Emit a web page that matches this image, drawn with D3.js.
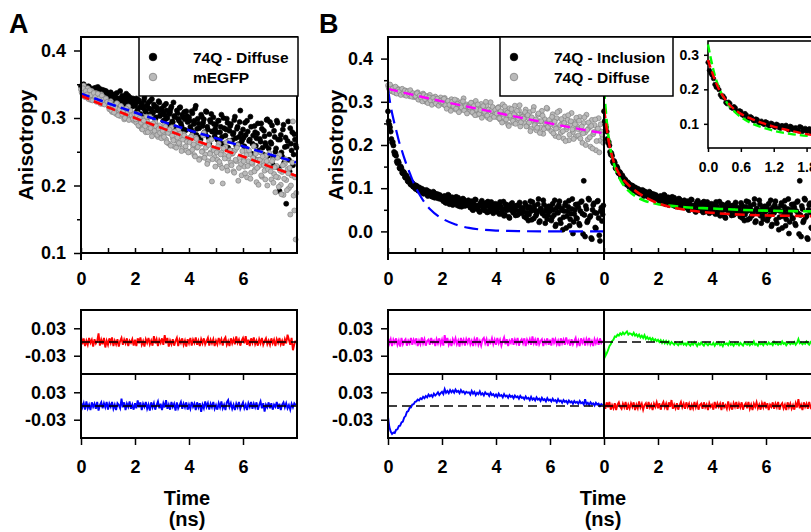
<!DOCTYPE html>
<html>
<head>
<meta charset="utf-8">
<script src="https://cdn.jsdelivr.net/npm/d3@7"></script>
<style>
body { margin: 0; background: #fff; }
</style>
</head>
<body>
<svg id="chart" width="811" height="532"></svg>
<script>
// traces are sampled every 0.05 ns from 0 to 7.95 ns; scatter sets have a second sweep 0.025 ns later
var timeNs = d3.range(160).map(i => +(i * 0.05).toFixed(3));
var timeNsOdd = d3.range(160).map(i => +(i * 0.05 + 0.025).toFixed(3));

// panel A scatter: 74Q - Diffuse (black) and mEGFP (gray)
var diffuseA = [
  0.347, 0.341, 0.350, 0.338, 0.344, 0.336, 0.346, 0.340, 0.333, 0.342, 0.337, 0.345, 0.331, 0.339, 0.343, 0.334, 0.329, 0.341, 0.336, 0.338,
  0.332, 0.327, 0.338, 0.321, 0.330, 0.335, 0.324, 0.318, 0.329, 0.340, 0.326, 0.320, 0.331, 0.315, 0.327, 0.333, 0.322, 0.328, 0.317, 0.325,
  0.318, 0.329, 0.312, 0.324, 0.306, 0.321, 0.315, 0.330, 0.309, 0.318, 0.302, 0.325, 0.313, 0.307, 0.320, 0.298, 0.316, 0.311, 0.323, 0.305,
  0.312, 0.296, 0.305, 0.321, 0.300, 0.290, 0.309, 0.317, 0.294, 0.303, 0.286, 0.311, 0.299, 0.315, 0.292, 0.305, 0.283, 0.298, 0.310, 0.294,
  0.301, 0.287, 0.310, 0.279, 0.296, 0.318, 0.284, 0.292, 0.271, 0.305, 0.288, 0.298, 0.276, 0.309, 0.283, 0.262, 0.294, 0.280, 0.301, 0.273,
  0.290, 0.268, 0.296, 0.279, 0.305, 0.262, 0.285, 0.274, 0.299, 0.256, 0.281, 0.291, 0.267, 0.278, 0.302, 0.259, 0.287, 0.272, 0.311, 0.265,
  0.283, 0.258, 0.275, 0.296, 0.249, 0.268, 0.287, 0.262, 0.241, 0.279, 0.270, 0.292, 0.252, 0.265, 0.284, 0.246, 0.273, 0.259, 0.298, 0.255,
  0.294, 0.262, 0.231, 0.281, 0.250, 0.296, 0.268, 0.192, 0.275, 0.243, 0.290, 0.257, 0.173, 0.266, 0.238, 0.285, 0.252, 0.230, 0.276, 0.260
];
var diffuseAOdd = [
  0.343, 0.349, 0.335, 0.345, 0.339, 0.347, 0.332, 0.341, 0.337, 0.344, 0.330, 0.340, 0.346, 0.333, 0.338, 0.342, 0.327, 0.336, 0.340, 0.331,
  0.336, 0.329, 0.323, 0.334, 0.319, 0.331, 0.337, 0.322, 0.328, 0.316, 0.333, 0.325, 0.319, 0.336, 0.323, 0.314, 0.330, 0.324, 0.329, 0.319,
  0.322, 0.310, 0.327, 0.316, 0.303, 0.319, 0.326, 0.311, 0.300, 0.322, 0.314, 0.306, 0.328, 0.309, 0.317, 0.301, 0.312, 0.325, 0.303, 0.314,
  0.308, 0.318, 0.298, 0.311, 0.289, 0.306, 0.314, 0.295, 0.323, 0.301, 0.284, 0.307, 0.296, 0.316, 0.288, 0.301, 0.309, 0.282, 0.303, 0.298,
  0.296, 0.283, 0.307, 0.291, 0.314, 0.275, 0.299, 0.285, 0.268, 0.302, 0.293, 0.279, 0.310, 0.287, 0.271, 0.297, 0.306, 0.280, 0.291, 0.284,
  0.279, 0.296, 0.264, 0.287, 0.272, 0.300, 0.258, 0.283, 0.293, 0.266, 0.288, 0.251, 0.276, 0.297, 0.270, 0.284, 0.261, 0.294, 0.277, 0.268,
  0.271, 0.293, 0.254, 0.280, 0.266, 0.302, 0.247, 0.274, 0.288, 0.259, 0.277, 0.238, 0.269, 0.292, 0.256, 0.281, 0.263, 0.297, 0.244, 0.276,
  0.264, 0.289, 0.241, 0.272, 0.255, 0.293, 0.226, 0.268, 0.249, 0.283, 0.234, 0.271, 0.258, 0.295, 0.221, 0.262, 0.279, 0.246, 0.268, 0.256
];
var egfpA = [
  0.342, 0.336, 0.348, 0.331, 0.339, 0.344, 0.333, 0.327, 0.340, 0.335, 0.329, 0.337, 0.325, 0.332, 0.328, 0.335, 0.321, 0.330, 0.326, 0.322,
  0.320, 0.313, 0.325, 0.309, 0.318, 0.314, 0.306, 0.321, 0.311, 0.303, 0.316, 0.308, 0.298, 0.312, 0.305, 0.317, 0.300, 0.309, 0.302, 0.296,
  0.301, 0.293, 0.306, 0.288, 0.297, 0.284, 0.299, 0.291, 0.279, 0.295, 0.286, 0.302, 0.281, 0.290, 0.276, 0.294, 0.285, 0.272, 0.289, 0.280,
  0.284, 0.275, 0.290, 0.268, 0.281, 0.262, 0.277, 0.286, 0.270, 0.258, 0.279, 0.266, 0.283, 0.261, 0.273, 0.255, 0.276, 0.268, 0.252, 0.270,
  0.268, 0.250, 0.274, 0.259, 0.245, 0.271, 0.256, 0.264, 0.240, 0.262, 0.251, 0.278, 0.246, 0.258, 0.236, 0.266, 0.249, 0.206, 0.255, 0.242,
  0.254, 0.238, 0.262, 0.231, 0.249, 0.203, 0.245, 0.257, 0.228, 0.240, 0.266, 0.234, 0.247, 0.221, 0.252, 0.236, 0.260, 0.226, 0.243, 0.215,
  0.240, 0.228, 0.251, 0.212, 0.236, 0.246, 0.219, 0.232, 0.258, 0.224, 0.205, 0.238, 0.229, 0.249, 0.213, 0.235, 0.222, 0.244, 0.200, 0.231,
  0.226, 0.209, 0.238, 0.217, 0.190, 0.229, 0.212, 0.245, 0.201, 0.220, 0.186, 0.232, 0.208, 0.224, 0.196, 0.157, 0.215, 0.295, 0.163, 0.120
];
var egfpAOdd = [
  0.338, 0.344, 0.332, 0.340, 0.335, 0.328, 0.341, 0.334, 0.326, 0.337, 0.331, 0.324, 0.336, 0.329, 0.321, 0.333, 0.327, 0.320, 0.329, 0.324,
  0.317, 0.323, 0.311, 0.319, 0.308, 0.315, 0.322, 0.304, 0.313, 0.318, 0.306, 0.311, 0.300, 0.314, 0.307, 0.297, 0.311, 0.304, 0.299, 0.306,
  0.298, 0.304, 0.289, 0.300, 0.293, 0.283, 0.296, 0.288, 0.302, 0.279, 0.291, 0.285, 0.273, 0.292, 0.281, 0.288, 0.275, 0.284, 0.278, 0.270,
  0.281, 0.272, 0.287, 0.264, 0.278, 0.283, 0.259, 0.274, 0.267, 0.280, 0.256, 0.271, 0.263, 0.277, 0.251, 0.268, 0.274, 0.258, 0.265, 0.249,
  0.264, 0.272, 0.253, 0.261, 0.243, 0.269, 0.257, 0.238, 0.263, 0.250, 0.274, 0.241, 0.256, 0.232, 0.260, 0.247, 0.268, 0.239, 0.252, 0.228,
  0.249, 0.258, 0.235, 0.246, 0.226, 0.255, 0.240, 0.264, 0.222, 0.244, 0.252, 0.230, 0.248, 0.219, 0.238, 0.256, 0.207, 0.241, 0.232, 0.251,
  0.236, 0.218, 0.245, 0.229, 0.252, 0.210, 0.234, 0.241, 0.221, 0.247, 0.226, 0.201, 0.238, 0.215, 0.243, 0.230, 0.209, 0.236, 0.224, 0.248,
  0.221, 0.236, 0.204, 0.227, 0.213, 0.241, 0.198, 0.222, 0.187, 0.230, 0.210, 0.239, 0.193, 0.218, 0.226, 0.200, 0.234, 0.185, 0.212, 0.189
];

// panel B scatter: 74Q - Inclusion (black) and 74Q - Diffuse (gray)
var inclusionB = [
  0.278, 0.247, 0.231, 0.206, 0.199, 0.178, 0.175, 0.158, 0.159, 0.145, 0.146, 0.134, 0.136, 0.124, 0.126, 0.115, 0.118, 0.108, 0.112, 0.103,
  0.101, 0.106, 0.096, 0.102, 0.093, 0.099, 0.089, 0.095, 0.091, 0.085, 0.093, 0.083, 0.089, 0.080, 0.090, 0.084, 0.078, 0.086, 0.080, 0.075,
  0.079, 0.070, 0.082, 0.066, 0.075, 0.083, 0.068, 0.073, 0.061, 0.077, 0.069, 0.064, 0.078, 0.058, 0.071, 0.066, 0.074, 0.059, 0.068, 0.063,
  0.066, 0.055, 0.070, 0.049, 0.061, 0.073, 0.052, 0.058, 0.045, 0.067, 0.057, 0.063, 0.048, 0.059, 0.069, 0.046, 0.056, 0.062, 0.042, 0.058,
  0.060, 0.045, 0.055, 0.068, 0.041, 0.052, 0.036, 0.063, 0.049, 0.057, 0.031, 0.054, 0.066, 0.043, 0.050, 0.059, 0.038, 0.061, 0.046, 0.055,
  0.052, 0.034, 0.061, 0.043, 0.025, 0.057, 0.047, 0.068, 0.030, 0.049, 0.040, 0.063, 0.021, 0.053, 0.044, 0.072, 0.036, 0.048, 0.028, 0.058,
  0.047, 0.025, 0.064, 0.038, 0.012, 0.055, 0.043, 0.070, 0.019, 0.049, 0.033, 0.060, 0.008, 0.046, 0.071, 0.028, 0.052, -0.005, 0.040, 0.062,
  0.030, 0.056, 0.014, 0.068, 0.041, 0.117, -0.012, 0.052, 0.025, 0.073, 0.036, -0.018, 0.061, 0.044, 0.007, 0.069, 0.031, -0.022, 0.055, 0.039
];
var inclusionBOdd = [
  0.255, 0.241, 0.214, 0.207, 0.184, 0.181, 0.162, 0.163, 0.147, 0.150, 0.136, 0.138, 0.126, 0.130, 0.117, 0.121, 0.110, 0.114, 0.104, 0.108,
  0.098, 0.104, 0.094, 0.100, 0.090, 0.097, 0.087, 0.093, 0.096, 0.082, 0.091, 0.086, 0.081, 0.092, 0.078, 0.087, 0.083, 0.076, 0.084, 0.079,
  0.074, 0.081, 0.067, 0.076, 0.085, 0.063, 0.072, 0.079, 0.065, 0.070, 0.080, 0.060, 0.073, 0.068, 0.057, 0.076, 0.064, 0.070, 0.061, 0.072,
  0.059, 0.068, 0.051, 0.063, 0.074, 0.054, 0.060, 0.047, 0.065, 0.071, 0.050, 0.058, 0.066, 0.044, 0.061, 0.053, 0.068, 0.049, 0.057, 0.064,
  0.051, 0.062, 0.040, 0.058, 0.047, 0.069, 0.039, 0.054, 0.061, 0.034, 0.050, 0.064, 0.045, 0.056, 0.037, 0.060, 0.048, 0.067, 0.042, 0.053,
  0.045, 0.066, 0.031, 0.054, 0.039, 0.070, 0.027, 0.050, 0.059, 0.036, 0.046, 0.075, 0.024, 0.051, 0.041, 0.062, 0.019, 0.056, 0.038, 0.047,
  0.058, 0.032, 0.050, 0.072, 0.016, 0.044, 0.061, 0.027, 0.053, 0.004, 0.047, 0.066, 0.035, 0.057, 0.013, 0.041, 0.075, 0.022, 0.050, 0.031,
  0.063, 0.018, 0.047, 0.070, -0.006, 0.038, 0.059, 0.021, 0.076, 0.033, -0.015, 0.050, 0.065, 0.009, 0.042, 0.071, -0.009, 0.047, 0.024, 0.060
];
var diffuseB = [
  0.338, 0.329, 0.335, 0.324, 0.333, 0.327, 0.320, 0.331, 0.325, 0.318, 0.328, 0.322, 0.316, 0.326, 0.319, 0.323, 0.313, 0.321, 0.317, 0.311,
  0.318, 0.310, 0.322, 0.307, 0.315, 0.303, 0.319, 0.309, 0.300, 0.313, 0.305, 0.316, 0.298, 0.308, 0.302, 0.312, 0.295, 0.306, 0.299, 0.310,
  0.304, 0.294, 0.309, 0.290, 0.301, 0.285, 0.298, 0.306, 0.288, 0.296, 0.282, 0.303, 0.291, 0.279, 0.299, 0.287, 0.308, 0.283, 0.294, 0.277,
  0.292, 0.280, 0.297, 0.274, 0.286, 0.302, 0.270, 0.289, 0.278, 0.295, 0.267, 0.284, 0.273, 0.291, 0.263, 0.281, 0.299, 0.268, 0.286, 0.276,
  0.279, 0.264, 0.288, 0.259, 0.273, 0.294, 0.255, 0.281, 0.268, 0.247, 0.285, 0.262, 0.276, 0.251, 0.291, 0.266, 0.258, 0.280, 0.243, 0.270,
  0.267, 0.251, 0.282, 0.244, 0.262, 0.276, 0.237, 0.258, 0.288, 0.249, 0.234, 0.270, 0.255, 0.241, 0.279, 0.226, 0.260, 0.247, 0.284, 0.238,
  0.256, 0.232, 0.271, 0.245, 0.221, 0.262, 0.240, 0.279, 0.228, 0.251, 0.215, 0.266, 0.236, 0.258, 0.211, 0.247, 0.274, 0.230, 0.253, 0.219,
  0.243, 0.222, 0.265, 0.234, 0.205, 0.251, 0.229, 0.270, 0.213, 0.240, 0.196, 0.258, 0.225, 0.246, 0.188, 0.236, 0.262, 0.210, 0.231, 0.218
];
var diffuseBOdd = [
  0.333, 0.340, 0.326, 0.331, 0.322, 0.335, 0.319, 0.328, 0.324, 0.316, 0.330, 0.321, 0.326, 0.314, 0.324, 0.318, 0.327, 0.312, 0.320, 0.315,
  0.313, 0.320, 0.305, 0.314, 0.309, 0.301, 0.316, 0.306, 0.312, 0.297, 0.310, 0.303, 0.293, 0.309, 0.301, 0.296, 0.307, 0.291, 0.302, 0.298,
  0.299, 0.307, 0.292, 0.284, 0.302, 0.293, 0.279, 0.300, 0.290, 0.305, 0.284, 0.295, 0.276, 0.292, 0.287, 0.301, 0.280, 0.290, 0.273, 0.288,
  0.287, 0.298, 0.276, 0.290, 0.269, 0.283, 0.294, 0.272, 0.281, 0.263, 0.290, 0.277, 0.300, 0.268, 0.282, 0.260, 0.279, 0.288, 0.265, 0.281,
  0.273, 0.286, 0.262, 0.278, 0.252, 0.270, 0.289, 0.259, 0.275, 0.244, 0.268, 0.283, 0.256, 0.271, 0.249, 0.279, 0.262, 0.292, 0.253, 0.265,
  0.261, 0.276, 0.243, 0.269, 0.252, 0.232, 0.264, 0.280, 0.246, 0.259, 0.240, 0.273, 0.228, 0.255, 0.268, 0.237, 0.250, 0.286, 0.242, 0.258,
  0.249, 0.265, 0.227, 0.254, 0.238, 0.276, 0.218, 0.246, 0.260, 0.232, 0.251, 0.209, 0.242, 0.269, 0.224, 0.255, 0.236, 0.214, 0.248, 0.263,
  0.237, 0.256, 0.215, 0.243, 0.227, 0.264, 0.200, 0.235, 0.252, 0.218, 0.244, 0.192, 0.230, 0.259, 0.209, 0.238, 0.183, 0.248, 0.224, 0.205
];

// fitted curves
var fitTimes = [0, 1, 2, 3, 4, 5, 6, 7, 8];
var fitDiffuseA = [0.336, 0.322, 0.308, 0.295, 0.282, 0.270, 0.258, 0.246, 0.234];
var fitEgfpA = [0.333, 0.316, 0.300, 0.285, 0.270, 0.256, 0.243, 0.228, 0.214];
var fitDiffuseB = [0.330, 0.315, 0.301, 0.288, 0.275, 0.262, 0.250, 0.238, 0.227];
var oneCompTimes = [0, 0.1, 0.2, 0.3, 0.4, 0.5, 0.6, 0.7, 0.8, 1.0, 1.2, 1.4, 1.6, 1.8, 2.0, 2.5, 3, 3.5, 4, 5, 6, 8];
var fitOneComp = [0.330, 0.290, 0.260, 0.235, 0.210, 0.190, 0.170, 0.152, 0.136, 0.105, 0.082, 0.063, 0.049, 0.038, 0.030, 0.016, 0.008, 0.004, 0.002, 0.0005, 0, 0];
var multiTimes = [0, 0.1, 0.2, 0.3, 0.4, 0.5, 0.6, 0.8, 1.0, 1.2, 1.5, 2, 2.5, 3, 4, 5, 6, 7, 8];
var fitTwoComp = [0.330, 0.255, 0.205, 0.172, 0.150, 0.133, 0.120, 0.101, 0.089, 0.080, 0.071, 0.063, 0.059, 0.056, 0.053, 0.050, 0.048, 0.047, 0.046];
var fitThreeComp = [0.285, 0.238, 0.200, 0.174, 0.154, 0.140, 0.129, 0.114, 0.102, 0.092, 0.080, 0.065, 0.056, 0.050, 0.043, 0.039, 0.037, 0.036, 0.035];

// residuals
var resEgfpA = [
  0.012, -0.005, 0.008, -0.009, 0.003, -0.006, 0.009, -0.002, 0.005, -0.010, 0.006, -0.003, 0.002, 0.019, -0.008, 0.005, -0.005, 0.009, -0.012, 0.003,
  -0.006, 0.008, -0.002, 0.010, -0.009, 0.003, -0.005, 0.006, -0.010, 0.002, 0.009, -0.006, 0.005, -0.003, 0.008, -0.009, 0.003, -0.002, 0.006, -0.008,
  0.005, -0.009, 0.008, -0.003, 0.010, -0.006, 0.002, -0.010, 0.006, -0.002, 0.009, -0.005, 0.003, -0.008, 0.013, -0.003, 0.006, -0.009, 0.005, -0.002,
  0.008, -0.006, 0.015, -0.003, 0.009, -0.010, 0.003, -0.005, 0.006, -0.008, 0.002, 0.009, -0.009, 0.005, -0.002, 0.008, -0.006, 0.003, -0.010, 0.006,
  -0.003, 0.009, -0.008, 0.005, -0.002, 0.010, -0.006, 0.003, -0.009, 0.006, -0.003, 0.008, -0.005, 0.002, 0.009, -0.008, 0.005, -0.003, 0.006, -0.009,
  0.003, -0.005, 0.009, -0.002, 0.006, -0.008, 0.005, 0.010, -0.006, 0.002, -0.009, 0.008, -0.003, 0.006, -0.005, 0.012, -0.002, 0.005, -0.008, 0.003,
  0.009, -0.003, 0.013, -0.006, 0.005, -0.009, 0.008, -0.002, 0.010, -0.005, 0.003, -0.008, 0.006, -0.003, 0.009, -0.006, 0.002, 0.008, -0.005, 0.003,
  -0.006, 0.008, -0.003, 0.005, -0.009, 0.006, -0.002, 0.009, -0.005, 0.003, -0.008, 0.006, -0.003, 0.016, 0.005, -0.006, 0.009, -0.018, -0.005, 0.003
];
var resDiffuseA = [
  0.009, -0.003, 0.006, -0.008, 0.010, -0.005, 0.003, -0.009, 0.008, -0.002, 0.005, -0.006, 0.009, -0.010, 0.002, 0.008, -0.005, 0.006, -0.003, 0.009,
  -0.008, 0.005, -0.002, 0.009, -0.006, 0.003, -0.009, 0.006, 0.002, -0.005, 0.016, -0.003, 0.008, -0.009, 0.005, -0.002, 0.010, -0.006, 0.003, -0.008,
  0.006, -0.005, 0.012, -0.003, 0.008, -0.009, 0.005, -0.002, 0.009, -0.006, 0.003, -0.010, 0.008, -0.003, 0.006, -0.008, 0.002, 0.010, -0.005, 0.005,
  -0.009, 0.006, -0.003, 0.013, -0.006, 0.003, -0.008, 0.009, -0.002, 0.005, -0.010, 0.008, -0.005, 0.002, 0.009, -0.006, 0.005, -0.003, 0.008, -0.008,
  0.003, -0.006, 0.009, -0.002, 0.005, -0.009, 0.008, -0.003, 0.006, -0.013, 0.003, -0.005, 0.010, -0.002, 0.006, -0.008, 0.005, -0.003, 0.009, -0.006,
  0.002, -0.008, 0.006, -0.003, 0.010, -0.005, 0.003, -0.009, 0.008, 0.013, -0.002, 0.006, -0.006, 0.003, -0.009, 0.005, -0.003, 0.009, -0.006, 0.002,
  0.008, -0.005, 0.003, -0.009, 0.006, -0.002, 0.009, -0.006, 0.005, -0.003, 0.008, -0.008, 0.002, 0.010, -0.005, 0.006, -0.012, 0.003, -0.003, 0.008,
  -0.005, 0.006, -0.008, 0.003, -0.002, 0.009, -0.006, 0.005, -0.009, 0.003, 0.008, -0.003, 0.006, -0.005, 0.002, -0.008, 0.005, -0.003, 0.006, 0.002
];
var resDiffuseB = [
  0.010, -0.003, 0.006, -0.009, 0.005, -0.002, 0.008, -0.006, 0.003, -0.010, 0.009, -0.005, 0.002, 0.006, -0.008, 0.003, -0.003, 0.009, -0.006, 0.005,
  -0.002, 0.008, -0.009, 0.003, -0.005, 0.010, -0.003, 0.006, -0.008, 0.002, 0.005, -0.006, 0.009, -0.002, 0.003, -0.009, 0.006, -0.003, 0.008, -0.005,
  0.005, -0.008, 0.015, -0.003, 0.009, -0.006, 0.002, -0.009, 0.006, -0.002, 0.008, -0.005, 0.003, -0.010, 0.009, -0.003, 0.005, -0.008, 0.006, -0.002,
  0.009, -0.005, 0.003, -0.009, 0.006, -0.003, 0.010, -0.006, 0.002, -0.008, 0.005, 0.009, -0.003, 0.006, -0.009, 0.003, -0.002, 0.008, -0.005, 0.005,
  -0.006, 0.009, -0.003, 0.005, -0.008, 0.002, 0.010, -0.005, 0.006, -0.009, 0.003, -0.002, 0.008, -0.006, 0.005, -0.003, 0.009, -0.008, 0.002, 0.006,
  -0.003, 0.008, -0.009, 0.005, -0.002, 0.006, -0.006, 0.012, -0.003, 0.005, -0.008, 0.009, -0.005, 0.002, 0.006, -0.009, 0.003, -0.003, 0.008, -0.006,
  0.005, -0.008, 0.009, -0.002, 0.006, -0.005, 0.003, -0.009, 0.008, -0.003, 0.005, -0.006, 0.010, -0.002, 0.003, -0.008, 0.006, -0.005, 0.002, 0.009,
  -0.006, 0.003, -0.009, 0.008, -0.002, 0.005, -0.008, 0.006, -0.003, 0.009, -0.005, 0.002, -0.009, 0.006, -0.003, 0.005, -0.006, 0.008, -0.002, 0.003
];
var resTwoComp = [
  -0.010, -0.031, -0.025, -0.018, -0.009, -0.005, 0.002, 0.005, 0.012, 0.011, 0.016, 0.014, 0.019, 0.016, 0.021, 0.017, 0.020, 0.023, 0.016, 0.019,
  0.018, 0.015, 0.020, 0.014, 0.017, 0.012, 0.016, 0.010, 0.014, 0.009, 0.015, 0.007, 0.011, 0.006, 0.009, 0.004, 0.008, 0.003, 0.006, 0.002,
  0.005, 0.000, 0.004, -0.002, 0.003, -0.003, 0.002, -0.004, 0.001, -0.005, 0.000, -0.003, -0.006, -0.001, -0.004, -0.007, -0.002, -0.005, 0.000, -0.006,
  -0.003, -0.007, -0.001, -0.005, -0.008, -0.002, -0.006, 0.000, -0.004, -0.009, -0.003, -0.006, -0.001, -0.005, -0.008, -0.002, -0.004, -0.007, -0.003, -0.005,
  -0.006, -0.002, -0.008, -0.003, -0.005, -0.001, -0.007, -0.004, -0.009, -0.002, -0.005, -0.003, -0.007, 0.000, -0.006, -0.004, -0.008, -0.002, -0.005, -0.003,
  -0.007, -0.002, -0.005, -0.008, -0.001, -0.004, -0.006, -0.002, -0.007, -0.003, -0.005, 0.001, -0.006, -0.004, -0.008, -0.002, -0.005, -0.003, -0.007, -0.001,
  -0.004, -0.006, -0.001, -0.005, -0.003, -0.007, 0.000, -0.004, -0.002, -0.006, -0.003, -0.005, 0.001, -0.004, -0.002, -0.007, -0.003, -0.001, -0.005, -0.002,
  -0.004, 0.000, -0.006, -0.002, 0.006, -0.003, -0.001, -0.005, -0.002, -0.004, 0.001, -0.003, -0.006, 0.000, -0.002, -0.004, 0.002, -0.003, -0.001, -0.004
];
var resOneComp = [
  -0.024, -0.046, -0.056, -0.061, -0.058, -0.059, -0.052, -0.051, -0.044, -0.043, -0.036, -0.034, -0.025, -0.022, -0.013, -0.011, -0.004, -0.003, 0.003, 0.004,
  0.009, 0.010, 0.014, 0.012, 0.017, 0.015, 0.020, 0.017, 0.022, 0.019, 0.025, 0.021, 0.024, 0.020, 0.027, 0.023, 0.026, 0.030, 0.024, 0.028,
  0.031, 0.026, 0.037, 0.029, 0.033, 0.028, 0.035, 0.030, 0.034, 0.029, 0.036, 0.031, 0.033, 0.028, 0.035, 0.030, 0.032, 0.027, 0.031, 0.029,
  0.030, 0.025, 0.033, 0.027, 0.031, 0.024, 0.029, 0.026, 0.032, 0.025, 0.028, 0.023, 0.030, 0.026, 0.027, 0.022, 0.029, 0.024, 0.026, 0.021,
  0.025, 0.020, 0.027, 0.022, 0.024, 0.019, 0.026, 0.021, 0.023, 0.018, 0.024, 0.020, 0.022, 0.017, 0.023, 0.019, 0.021, 0.016, 0.022, 0.018,
  0.019, 0.015, 0.021, 0.016, 0.018, 0.013, 0.020, 0.014, 0.017, 0.012, 0.019, 0.014, 0.016, 0.011, 0.018, 0.013, 0.015, 0.010, 0.017, 0.012,
  0.014, 0.010, 0.016, 0.011, 0.013, 0.008, 0.015, 0.010, 0.012, 0.007, 0.013, 0.009, 0.011, 0.006, 0.012, 0.008, 0.010, 0.005, 0.011, 0.007,
  0.009, 0.005, 0.011, 0.006, 0.008, 0.003, 0.015, 0.004, 0.007, 0.002, 0.008, 0.004, 0.006, 0.001, 0.007, 0.003, 0.005, 0.000, 0.004, 0.002
];
var resThreeComp = [
  0.005, -0.006, 0.008, -0.003, 0.009, -0.008, 0.002, -0.005, 0.006, -0.009, 0.003, 0.008, -0.002, -0.006, 0.005, -0.003, 0.009, -0.008, 0.003, -0.005,
  0.006, -0.002, 0.008, -0.009, 0.003, -0.005, 0.010, -0.003, 0.005, -0.008, 0.002, 0.006, -0.006, 0.009, -0.003, 0.003, -0.009, 0.005, -0.002, 0.008,
  -0.005, 0.006, -0.008, 0.003, 0.009, -0.003, 0.005, -0.009, 0.008, -0.002, 0.013, -0.006, 0.003, -0.005, 0.006, -0.008, 0.002, 0.009, -0.003, 0.005,
  -0.006, 0.008, -0.002, 0.005, -0.009, 0.003, -0.005, 0.009, -0.003, 0.006, -0.008, 0.002, 0.005, -0.006, 0.008, -0.003, 0.003, -0.009, 0.006, -0.002,
  0.003, -0.008, 0.009, -0.005, 0.006, -0.002, 0.005, -0.009, 0.008, -0.003, 0.002, -0.006, 0.010, -0.005, 0.003, -0.008, 0.006, -0.002, 0.009, -0.006,
  0.005, -0.003, 0.008, -0.008, 0.002, 0.006, -0.005, 0.009, -0.006, 0.003, -0.009, 0.005, -0.002, 0.008, -0.005, 0.003, -0.008, 0.006, -0.003, 0.009,
  -0.005, 0.006, -0.009, 0.003, -0.002, 0.008, -0.006, 0.005, -0.003, 0.009, -0.008, 0.002, 0.006, -0.005, 0.003, -0.009, 0.008, -0.003, 0.005, -0.006,
  0.002, -0.008, 0.006, -0.003, 0.015, -0.005, 0.003, -0.009, 0.008, -0.002, 0.005, -0.006, 0.009, -0.003, 0.002, -0.008, 0.006, -0.005, 0.003, -0.006
];

// tick values
var xMajor = [0, 2, 4, 6];
var xMinor = [1, 3, 5, 7];
var yTicksA = [0.1, 0.2, 0.3, 0.4];
var yMinorA = [0.15, 0.25, 0.35];
var yTicksB = [0.0, 0.1, 0.2, 0.3, 0.4];
var yMinorB = [0.05, 0.15, 0.25, 0.35];
var resTicks = [0.03, -0.03];
var insetXTicks = [0, 0.6, 1.2, 1.8];
var insetYTicks = [0.1, 0.2, 0.3];

var font = "'Liberation Sans', Arial, Helvetica, sans-serif";
var black = "#000", grayFill = "#bababa", grayEdge = "#828282";
var svg = d3.select("#chart");

var xA = d3.scaleLinear().domain([0, 8]).range([81, 297]);
var yA = d3.scaleLinear().domain([0.1, 0.42]).range([253, 37]);
var xBl = d3.scaleLinear().domain([0, 8]).range([388, 604]);
var xBr = d3.scaleLinear().domain([0, 8]).range([604, 820]);
var yB = d3.scaleLinear().domain([-0.05, 0.45]).range([253, 37]);
var yR1 = d3.scaleLinear().domain([-0.07, 0.07]).range([374, 310]);
var yR2 = d3.scaleLinear().domain([-0.07, 0.07]).range([438, 374]);
var xIn = d3.scaleLinear().domain([0, 2.1]).range([708, 823]);
var yIn = d3.scaleLinear().domain([0.03, 0.34]).range([148, 41]);

var styleAxis = function (g, size) {
    g.attr("font-family", font).attr("font-size", size).attr("font-weight", "bold");
    g.select(".domain").remove();
    g.selectAll(".tick line").attr("stroke", "#000").attr("stroke-width", 1.5);
};

var dots = function (times, data, x, y, r, fill, stroke, maxT) {
    var pts = data.map((v, i) => [times[i], v]).filter(d => maxT === undefined || d[0] <= maxT);
    svg.append("g").selectAll("circle")
        .data(pts)
        .enter().append("circle")
        .attr("cx", d => x(d[0]))
        .attr("cy", d => y(d[1]))
        .attr("r", r)
        .attr("fill", fill)
        .attr("stroke", stroke)
        .attr("stroke-width", 0.7);
};

var curve = function (times, values, x, y, color, dash, width) {
    var line = d3.line().x(d => x(d[0])).y(d => y(d[1])).curve(d3.curveMonotoneX);
    svg.append("path")
        .datum(d3.zip(times, values))
        .attr("d", line)
        .attr("fill", "none")
        .attr("stroke", color)
        .attr("stroke-width", width)
        .attr("stroke-dasharray", dash);
};

var trace = function (values, x, y, color) {
    var line = d3.line().x((d, i) => x(timeNs[i])).y(d => y(d));
    svg.append("path")
        .datum(values)
        .attr("d", line)
        .attr("fill", "none")
        .attr("stroke", color)
        .attr("stroke-width", 1.9);
};

var zeroLine = function (x, y) {
    svg.append("line")
        .attr("x1", x(0)).attr("x2", x(8))
        .attr("y1", y(0)).attr("y2", y(0))
        .attr("stroke", "#000").attr("stroke-width", 1.5)
        .attr("stroke-dasharray", "9,5");
};

var box = function (x, y, w, h) {
    svg.append("rect")
        .attr("x", x).attr("y", y).attr("width", w).attr("height", h)
        .attr("fill", "none").attr("stroke", "#000").attr("stroke-width", 2);
};

var vline = function (x, y1, y2) {
    svg.append("line").attr("x1", x).attr("x2", x).attr("y1", y1).attr("y2", y2)
        .attr("stroke", "#000").attr("stroke-width", 2);
};

// ---------- panel A data ----------
dots(timeNs, diffuseA, xA, yA, 2.5, black, black);
dots(timeNsOdd, diffuseAOdd, xA, yA, 2.5, black, black);
dots(timeNs, egfpA, xA, yA, 2.5, grayFill, grayEdge);
dots(timeNsOdd, egfpAOdd, xA, yA, 2.5, grayFill, grayEdge);
curve(fitTimes, fitDiffuseA, xA, yA, "#0000ff", "9,5", 2.6);
curve(fitTimes, fitEgfpA, xA, yA, "#ff0000", "9,5", 2.6);

trace(resEgfpA, xA, yR1, "#ff0000");
zeroLine(xA, yR1);
trace(resDiffuseA, xA, yR2, "#0000ff");
zeroLine(xA, yR2);

// ---------- panel B data ----------
dots(timeNs, diffuseB, xBl, yB, 2.5, grayFill, grayEdge);
dots(timeNsOdd, diffuseBOdd, xBl, yB, 2.5, grayFill, grayEdge);
dots(timeNs, inclusionB, xBl, yB, 2.5, black, black);
dots(timeNsOdd, inclusionBOdd, xBl, yB, 2.5, black, black);
curve(fitTimes, fitDiffuseB, xBl, yB, "#ff00ff", "10,6", 2.4);
curve(oneCompTimes, fitOneComp, xBl, yB, "#0000ff", "14,7", 2.2);

dots(timeNs, inclusionB, xBr, yB, 2.5, black, black);
dots(timeNsOdd, inclusionBOdd, xBr, yB, 2.5, black, black);
curve(multiTimes, fitTwoComp, xBr, yB, "#00ff00", "10,5", 2.6);
curve(multiTimes, fitThreeComp, xBr, yB, "#ff0000", "10,5", 2.6);

trace(resDiffuseB, xBl, yR1, "#ff00ff");
trace(resTwoComp, xBr, yR1, "#00ff00");
zeroLine(xBl, yR1);
zeroLine(xBr, yR1);
trace(resOneComp, xBl, yR2, "#0000ff");
trace(resThreeComp, xBr, yR2, "#ff0000");
zeroLine(xBl, yR2);
zeroLine(xBr, yR2);

// ---------- frames ----------
box(81, 37, 216, 216);
vline(81, 253, 260);
box(81, 310, 216, 64);
box(81, 374, 216, 64);

box(388, 37, 432, 216);
vline(388, 253, 260);
vline(604, 37, 260);
box(388, 310, 432, 64);
box(388, 374, 432, 64);
vline(604, 310, 438);

// ---------- axes ----------
var fmt1 = d => d.toFixed(1);
var fmt2 = d => d.toFixed(2);

[[81, yA, yTicksA, yMinorA], [388, yB, yTicksB, yMinorB]].forEach(function (p) {
    var x0 = p[0], y = p[1];
    svg.append("g").attr("transform", "translate(" + x0 + ",0)")
        .call(d3.axisLeft(y).tickValues(p[2]).tickSizeInner(7).tickSizeOuter(0).tickPadding(8).tickFormat(fmt1))
        .call(g => styleAxis(g, 18));
    svg.append("g").attr("transform", "translate(" + x0 + ",0)")
        .call(d3.axisLeft(y).tickValues(p[3]).tickSizeInner(4).tickSizeOuter(0).tickFormat(""))
        .call(g => styleAxis(g, 18));
    [yR1, yR2].forEach(function (yr) {
        svg.append("g").attr("transform", "translate(" + x0 + ",0)")
            .call(d3.axisLeft(yr).tickValues(resTicks).tickSizeInner(7).tickSizeOuter(0).tickPadding(8).tickFormat(fmt2))
            .call(g => styleAxis(g, 18));
    });
});

[xA, xBl, xBr].forEach(function (x) {
    // top plots: ticks point into the plot
    svg.append("g").attr("transform", "translate(0,253)")
        .call(d3.axisBottom(x).tickValues(xMajor).tickSizeInner(-5).tickSizeOuter(0).tickPadding(19).tickFormat(d3.format("d")))
        .call(g => styleAxis(g, 18));
    svg.append("g").attr("transform", "translate(0,253)")
        .call(d3.axisBottom(x).tickValues(xMinor).tickSizeInner(-5).tickSizeOuter(0).tickFormat(""))
        .call(g => styleAxis(g, 18));
    // residual stack
    svg.append("g").attr("transform", "translate(0,374)")
        .call(d3.axisTop(x).tickValues([2, 4, 6]).tickSizeInner(-6).tickSizeOuter(0).tickFormat(""))
        .call(g => styleAxis(g, 18));
    svg.append("g").attr("transform", "translate(0,438)")
        .call(d3.axisBottom(x).tickValues(xMajor).tickSizeInner(7).tickSizeOuter(0).tickPadding(15).tickFormat(d3.format("d")))
        .call(g => styleAxis(g, 18));
});

// ---------- legends ----------
var legend = function (x0, w, items) {
    var g = svg.append("g");
    g.append("rect").attr("x", x0).attr("y", 37).attr("width", w).attr("height", 59)
        .attr("fill", "#fff").attr("stroke", "#000").attr("stroke-width", 1.5);
    items.forEach(function (it, i) {
        g.append("circle").attr("cx", x0 + 14).attr("cy", 57 + i * 20).attr("r", 3.8)
            .attr("fill", it.fill).attr("stroke", it.stroke).attr("stroke-width", 0.8);
        g.append("text").attr("x", x0 + 54).attr("y", 57 + i * 20).attr("dy", "0.36em")
            .attr("font-family", font).attr("font-weight", "bold").attr("font-size", 15.5)
            .text(it.name);
    });
};
legend(139, 159, [
    { name: "74Q - Diffuse", fill: black, stroke: black },
    { name: "mEGFP", fill: grayFill, stroke: grayEdge }]);
legend(500, 173, [
    { name: "74Q - Inclusion", fill: black, stroke: black },
    { name: "74Q - Diffuse", fill: grayFill, stroke: grayEdge }]);

// ---------- inset (first 2 ns of the inclusion decay) ----------
svg.append("rect").attr("x", 708).attr("y", 41).attr("width", 120).attr("height", 107)
    .attr("fill", "#fff").attr("stroke", "#000").attr("stroke-width", 1.6);
dots(timeNs, inclusionB, xIn, yIn, 2.2, black, black, 2.1);
dots(timeNsOdd, inclusionBOdd, xIn, yIn, 2.2, black, black, 2.1);
curve(multiTimes.slice(0, 13), fitTwoComp.slice(0, 13), xIn, yIn, "#00ff00", "8,4", 2.4);
curve(multiTimes.slice(0, 13), fitThreeComp.slice(0, 13), xIn, yIn, "#ff0000", "8,4", 2.4);
svg.append("g").attr("transform", "translate(708,0)")
    .call(d3.axisLeft(yIn).tickValues(insetYTicks).tickSizeInner(4).tickSizeOuter(0).tickPadding(5).tickFormat(fmt1))
    .call(g => styleAxis(g, 14));
svg.append("g").attr("transform", "translate(0,148)")
    .call(d3.axisBottom(xIn).tickValues(insetXTicks).tickSizeInner(4).tickSizeOuter(0).tickPadding(10).tickFormat(fmt1))
    .call(g => styleAxis(g, 14));

// ---------- labels ----------
var label = function (txt, x, y, size, anchor, rot) {
    var t = svg.append("text")
        .attr("font-family", font).attr("font-weight", "bold").attr("font-size", size)
        .attr("text-anchor", anchor).text(txt);
    if (rot) t.attr("transform", "translate(" + x + "," + y + ") rotate(-90)");
    else t.attr("x", x).attr("y", y);
};
label("A", 9, 33, 27, "start");
label("B", 319, 33, 27, "start");
label("Anisotropy", 33, 145, 21, "middle", true);
label("Anisotropy", 343, 145, 21, "middle", true);
label("Time", 187, 505, 20, "middle");
label("(ns)", 187, 526, 20, "middle");
label("Time", 603, 505, 20, "middle");
label("(ns)", 603, 526, 20, "middle");
</script>
</body>
</html>
